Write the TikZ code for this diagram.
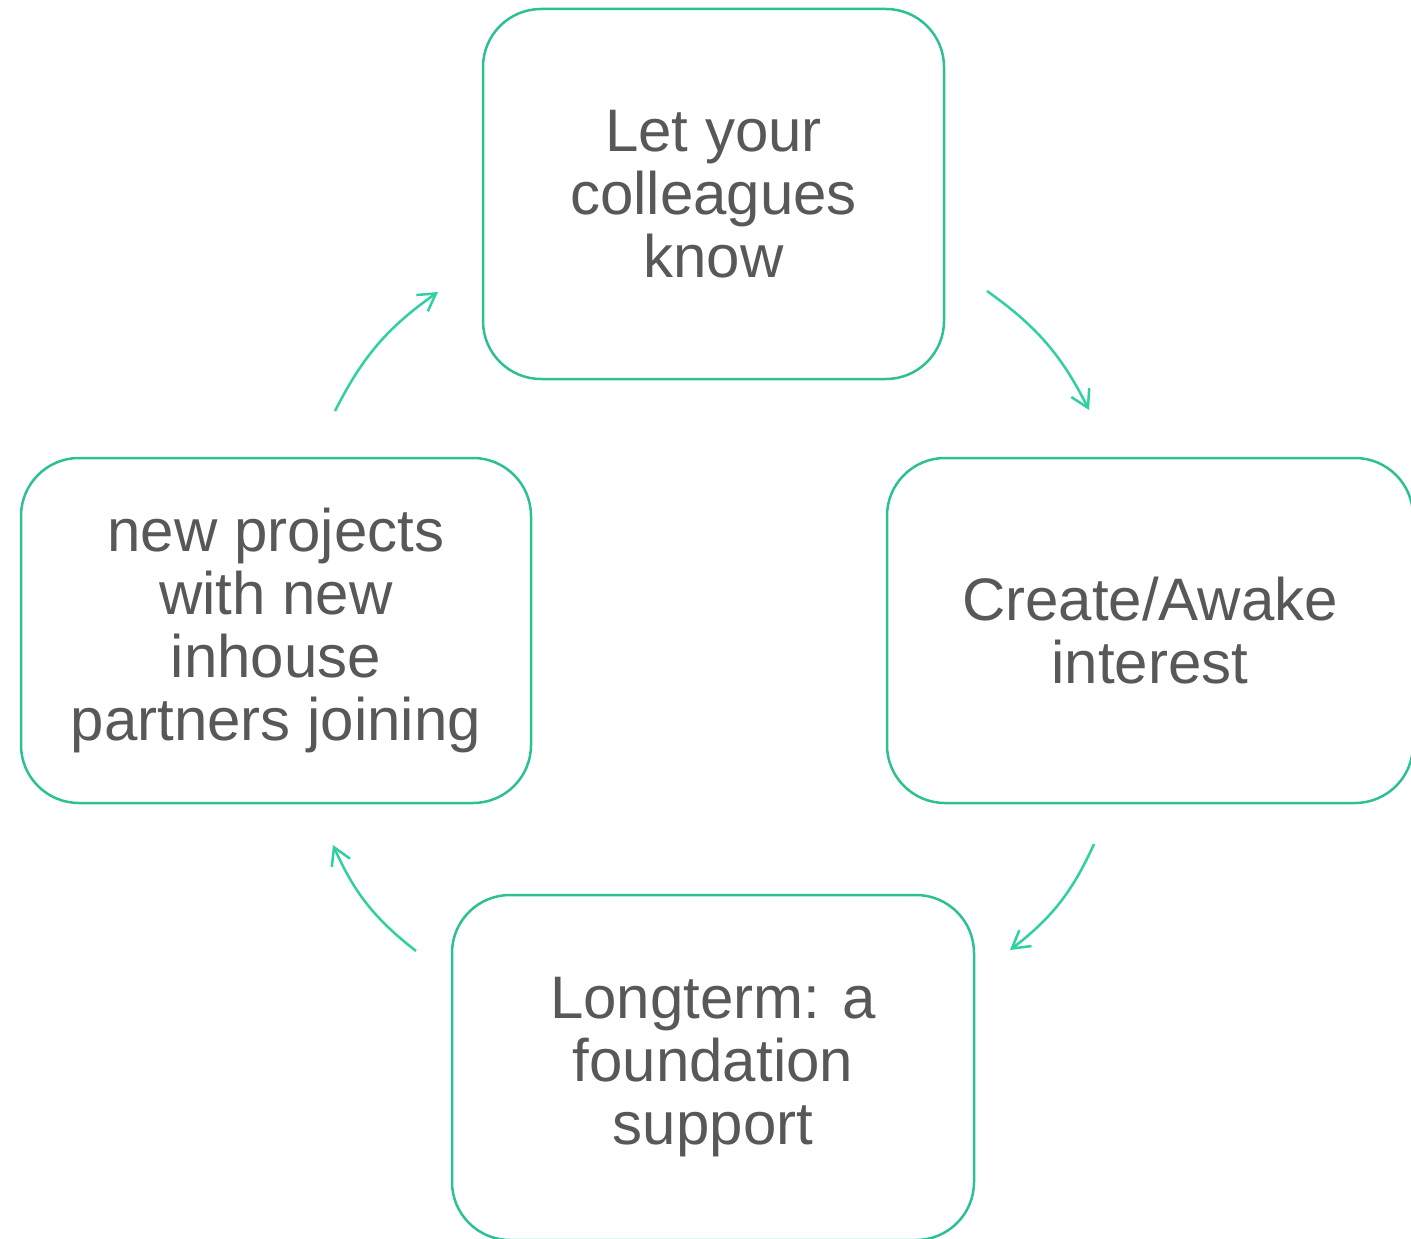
\documentclass[tikz,border=0pt]{standalone}
\usepackage{fontspec}
\setmainfont{Liberation Sans}
\usetikzlibrary{arrows.meta}
\definecolor{boxgreen}{RGB}{45,192,148}
\definecolor{arrgreen}{RGB}{48,208,160}
\definecolor{txtgray}{RGB}{88,88,90}
\tikzset{
  stagebox/.style={draw=boxgreen, line width=2.5pt, rounded corners=58pt,
    align=center, text=txtgray, inner sep=0pt,
    font=\fontsize{60}{63}\selectfont},
  cyclearrow/.style={draw=arrgreen, line width=2.5pt,
    -{Straight Barb[length=17pt,width=20pt]}, bend left=14}
}
\begin{document}
\begin{tikzpicture}[x=1pt,y=-1pt]
\useasboundingbox (0,0) rectangle (1411,1239);
\node[stagebox, minimum width=461pt, minimum height=370pt] (top) at (713.5,194) {Let your\\colleagues\\know};
\node[stagebox, minimum width=526pt, minimum height=345pt] (right) at (1150,630.5) {Create/Awake\\interest};
\node[stagebox, minimum width=510pt, minimum height=345pt] (left) at (276,630.5) {new projects\\with new\\inhouse\\partners joining};
\node[stagebox, minimum width=522pt, minimum height=345pt] (bottom) at (713,1067.5) {Longterm: a\\foundation\\support};
\coordinate (a1s) at (987,291);
\coordinate (a1e) at (1089,410);
\coordinate (a2s) at (1094,844);
\coordinate (a2e) at (1010,950);
\coordinate (a3s) at (416,951);
\coordinate (a3e) at (333,845);
\coordinate (a4s) at (335,411);
\coordinate (a4e) at (438,292);
\draw[cyclearrow] (a1s) to (a1e);
\draw[cyclearrow] (a2s) to (a2e);
\draw[cyclearrow] (a3s) to (a3e);
\draw[cyclearrow] (a4s) to (a4e);
\end{tikzpicture}
\end{document}
